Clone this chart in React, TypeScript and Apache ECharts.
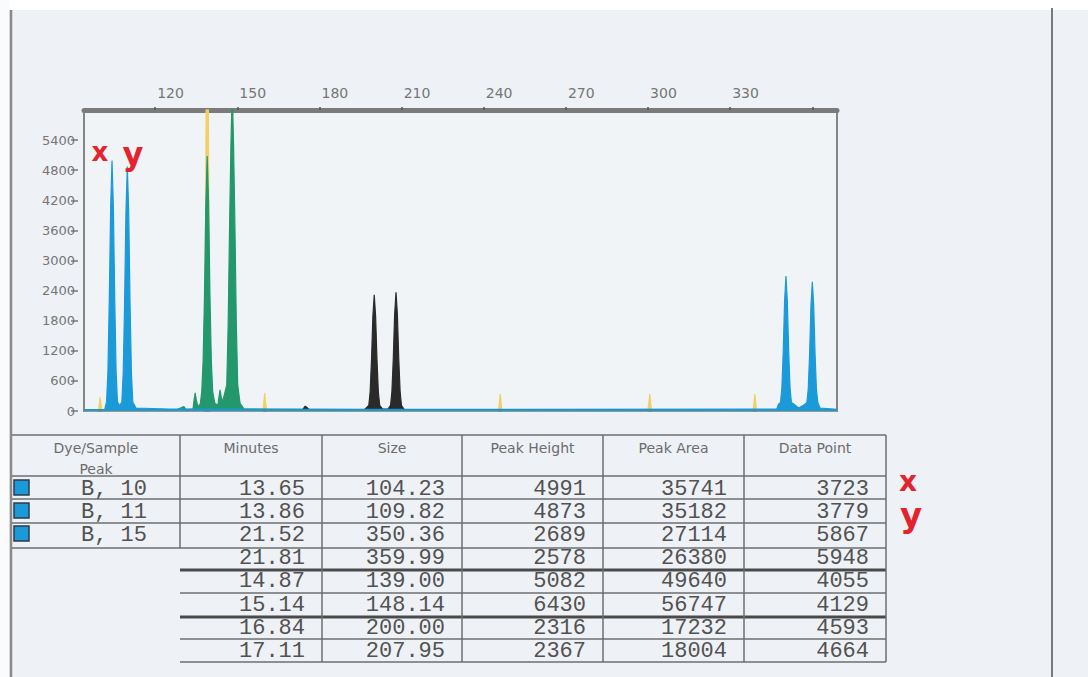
import React, { useEffect, useRef } from 'react';
import * as echarts from 'echarts';

// ---- axis ticks ----
const sizeTicks = [120, 150, 180, 210, 240, 270, 300, 330, 360];
const sizeTickLabels = [120, 150, 180, 210, 240, 270, 300, 330];
const heightTicks = [0, 600, 1200, 1800, 2400, 3000, 3600, 4200, 4800, 5400];

// ---- table data ----
const tableHeaders = ['Dye/Sample', 'Minutes', 'Size', 'Peak Height', 'Peak Area', 'Data Point'];
const dyeSamplePeaks = ['B, 10', 'B, 11', 'B, 15'];
const minutes = ['13.65', '13.86', '21.52', '21.81', '14.87', '15.14', '16.84', '17.11'];
const sizes = ['104.23', '109.82', '350.36', '359.99', '139.00', '148.14', '200.00', '207.95'];
const peakHeights = [4991, 4873, 2689, 2578, 5082, 6430, 2316, 2367];
const peakAreas = [35741, 35182, 27114, 26380, 49640, 56747, 17232, 18004];
const dataPoints = [3723, 3779, 5867, 5948, 4055, 4129, 4593, 4664];

// ---- electropherogram traces: [size (bp), height (RFU)] ----
const yellowTrace: [number, number][] = [
  [94, 0], [99.2, 0], [99.55, 130], [99.9, 270], [100.25, 130], [100.6, 0],
  [137.9, 0], [138.3, 2600], [138.65, 6800], [139.0, 9000], [139.35, 6800], [139.7, 2600], [140.1, 0],
  [159.3, 0], [159.65, 160], [160.0, 360], [160.35, 160], [160.7, 0],
  [245.3, 0], [245.65, 150], [246.0, 340], [246.35, 150], [246.7, 0],
  [299.9, 0], [300.25, 150], [300.6, 340], [300.95, 150], [301.3, 0],
  [338.3, 0], [338.65, 150], [339.0, 340], [339.35, 150], [339.7, 0],
  [369, 0],
];

const greenTrace: [number, number][] = [
  [94, 25], [128, 30], [130.5, 90], [131.2, 30], [133.8, 40], [134.2, 220], [134.6, 360], [135.0, 220],
  [135.6, 80], [136.5, 150], [137.0, 380], [137.5, 1000], [138.0, 2300], [138.5, 4150], [139.0, 5082],
  [139.5, 4150], [140.0, 2300], [140.5, 1000], [141.0, 380], [141.8, 150], [142.9, 120], [143.3, 280],
  [143.7, 420], [144.1, 280], [144.6, 180], [146.14, 520], [146.64, 1700], [147.14, 3600], [147.64, 5250],
  [148.14, 6430], [148.64, 5250], [149.14, 3600], [149.64, 1700], [150.14, 520], [151.0, 150],
  [152.5, 40], [200, 30], [369, 25],
];

const blackTrace: [number, number][] = [
  [94, 20], [173.8, 20], [174.4, 70], [174.8, 95], [175.4, 70], [176.2, 25], [196.5, 30],
  [198.0, 110], [198.5, 380], [199.0, 1020], [199.5, 1890], [200.0, 2316], [200.5, 1890], [201.0, 1020],
  [201.5, 380], [202.0, 110], [203.0, 40], [205.0, 40], [205.95, 110], [206.45, 390], [206.95, 1040],
  [207.45, 1930], [207.95, 2367], [208.45, 1930], [208.95, 1040], [209.45, 390], [209.95, 110],
  [211.0, 30], [369, 20],
];

const blueTrace: [number, number][] = [
  [94, 30], [101.6, 35], [102.23, 180], [102.73, 780], [103.23, 2200], [103.73, 4060], [104.23, 4991],
  [104.73, 4060], [105.23, 2200], [105.73, 780], [106.23, 180], [107.0, 110], [107.82, 180], [108.32, 760],
  [108.82, 2140], [109.32, 3970], [109.82, 4873], [110.32, 3970], [110.82, 2140], [111.32, 760],
  [111.82, 180], [113, 60], [125, 40], [160, 35], [250, 35], [347.0, 40], [347.6, 130], [348.36, 170],
  [348.86, 450], [349.36, 1180], [349.86, 2190], [350.36, 2689], [350.86, 2190], [351.36, 1180],
  [351.86, 450], [352.36, 170], [353.2, 140], [355, 60], [357.2, 130], [357.99, 170], [358.49, 430],
  [358.99, 1130], [359.49, 2100], [359.99, 2578], [360.49, 2100], [360.99, 1130], [361.49, 430],
  [361.99, 170], [362.8, 60], [369, 35],
];

const YELLOW = '#f2d066';
const GREEN = '#22986c';
const BLACK = '#2a2a2a';
const BLUE = '#1b9ada';

function traceSeries(name: string, data: [number, number][], color: string, z: number) {
  return {
    type: 'line',
    name,
    data,
    symbol: 'none',
    z,
    clip: true,
    lineStyle: { color, width: 1.2 },
    areaStyle: { color, opacity: 1 },
  };
}

function buildGraphic() {
  const els: any[] = [];
  const lineCol = '#6e6e6e';
  const hline = (y: number, x1: number, x2: number, w = 1.5, c = lineCol) =>
    els.push({ type: 'line', z: 10, shape: { x1, y1: y, x2, y2: y }, style: { stroke: c, lineWidth: w } });
  const vline = (x: number, y1: number, y2: number, w = 1.5, c = lineCol) =>
    els.push({ type: 'line', z: 10, shape: { x1: x, y1, x2: x, y2 }, style: { stroke: c, lineWidth: w } });

  // white scan margins
  els.push({ type: 'rect', z: -10, shape: { x: 0, y: 0, width: 1088, height: 10 }, style: { fill: '#ffffff' } });
  els.push({ type: 'rect', z: -10, shape: { x: 0, y: 0, width: 9, height: 677 }, style: { fill: '#fafbfc' } });
  // page borders
  vline(11, 10, 677, 2.5, '#8a8a8a');
  vline(1052, 8, 677, 2, '#7a7a7a');

  // table grid
  const colX = [12, 180, 322, 462, 603, 744, 886];
  const rowLines = [499, 523, 548];
  hline(435, 12, 886);
  hline(476, 12, 886);
  rowLines.forEach((y) => hline(y, 12, 886));
  hline(570, 180, 886, 3, '#4a4a4a');
  hline(593, 180, 886);
  hline(617, 180, 886, 3, '#4a4a4a');
  hline(639, 180, 886);
  hline(662, 180, 886);
  vline(180, 435, 548);
  colX.slice(2).forEach((x) => vline(x, 435, 662));

  // headers
  const headerFont = { fontSize: 14, fontFamily: 'DejaVu Sans', fill: '#6c6c6c' };
  const centers = colX.slice(0, 6).map((x, i) => (x + colX[i + 1]) / 2);
  tableHeaders.forEach((h, i) => {
    els.push({ type: 'text', z: 11, x: centers[i], y: 448, style: { text: h, align: 'center', verticalAlign: 'middle', ...headerFont } });
  });
  els.push({ type: 'text', z: 9, x: centers[0], y: 469, style: { text: 'Peak', align: 'center', verticalAlign: 'middle', ...headerFont } });

  // rows
  const rowY = [488, 511, 534, 557, 580, 604, 627, 650];
  const cellFont = { fontSize: 22, fontFamily: 'Liberation Mono', fill: '#525252' };
  dyeSamplePeaks.forEach((d, i) => {
    els.push({ type: 'rect', z: 11, shape: { x: 14, y: rowY[i] - 8, width: 15, height: 15 }, style: { fill: BLUE, stroke: '#2c3b4c', lineWidth: 1.5 } });
    els.push({ type: 'text', z: 11, x: 114, y: rowY[i] + 1, style: { text: d, align: 'center', verticalAlign: 'middle', ...cellFont } });
  });
  const cols = [minutes, sizes, peakHeights.map(String), peakAreas.map(String), dataPoints.map(String)];
  cols.forEach((col, ci) => {
    col.forEach((v, ri) => {
      els.push({ type: 'text', z: 11, x: colX[ci + 2] - 17, y: rowY[ri] + 1, style: { text: v, align: 'right', verticalAlign: 'middle', ...cellFont } });
    });
  });

  // red handwritten marks
  const red = { fill: '#e3232e', fontFamily: 'DejaVu Sans', fontWeight: 'bold' };
  els.push({ type: 'text', z: 50, x: 100, y: 152, style: { text: 'x', fontSize: 26, align: 'center', verticalAlign: 'middle', ...red } });
  els.push({ type: 'text', z: 50, x: 133, y: 154, style: { text: 'y', fontSize: 32, align: 'center', verticalAlign: 'middle', ...red } });
  els.push({ type: 'text', z: 50, x: 908, y: 481, style: { text: 'x', fontSize: 28, align: 'center', verticalAlign: 'middle', ...red } });
  els.push({ type: 'text', z: 50, x: 911, y: 515, style: { text: 'y', fontSize: 34, align: 'center', verticalAlign: 'middle', ...red } });
  return els;
}

export default function App() {
  const ref = useRef<HTMLDivElement>(null);
  useEffect(() => {
    document.body.style.margin = '0';
    if (!ref.current) return;
    const chart = echarts.init(ref.current, undefined, { renderer: 'svg' });
    const axisFont = { color: '#767676', fontFamily: 'DejaVu Sans' };
    chart.setOption({
      animation: false,
      backgroundColor: '#eef1f5',
      grid: {
        left: 84, top: 110, width: 753, height: 301,
        show: true, borderColor: '#858585', borderWidth: 2, backgroundColor: '#f1f4f7',
      },
      xAxis: {
        type: 'value', position: 'top', min: 94, max: 369,
        axisLine: { show: true, onZero: false, lineStyle: { color: '#7b7b7b', width: 5 } },
        axisTick: { show: true, customValues: sizeTicks, length: 3, lineStyle: { color: '#555', width: 1.5 } },
        axisLabel: { customValues: sizeTickLabels, align: 'left', margin: 10, fontSize: 14, padding: [0, 0, 0, 2], formatter: (v: number) => String(v), ...axisFont },
        splitLine: { show: false },
      },
      yAxis: {
        type: 'value', min: 0, max: 6000, offset: 6,
        axisLine: { show: false },
        axisTick: { show: true, customValues: heightTicks, length: 7, lineStyle: { color: '#777', width: 1.5 } },
        axisLabel: { customValues: heightTicks, margin: 3, fontSize: 13, formatter: (v: number) => String(v), ...axisFont },
        splitLine: { show: false },
      },
      series: [
        traceSeries('Yellow', yellowTrace, YELLOW, 2),
        traceSeries('Green', greenTrace, GREEN, 3),
        traceSeries('Black', blackTrace, BLACK, 4),
        traceSeries('Blue', blueTrace, BLUE, 5),
      ],
      graphic: { elements: buildGraphic() },
    });
    return () => chart.dispose();
  }, []);
  return <div ref={ref} style={{ position: 'absolute', left: 0, top: 0, width: 1088, height: 677 }} />;
}
